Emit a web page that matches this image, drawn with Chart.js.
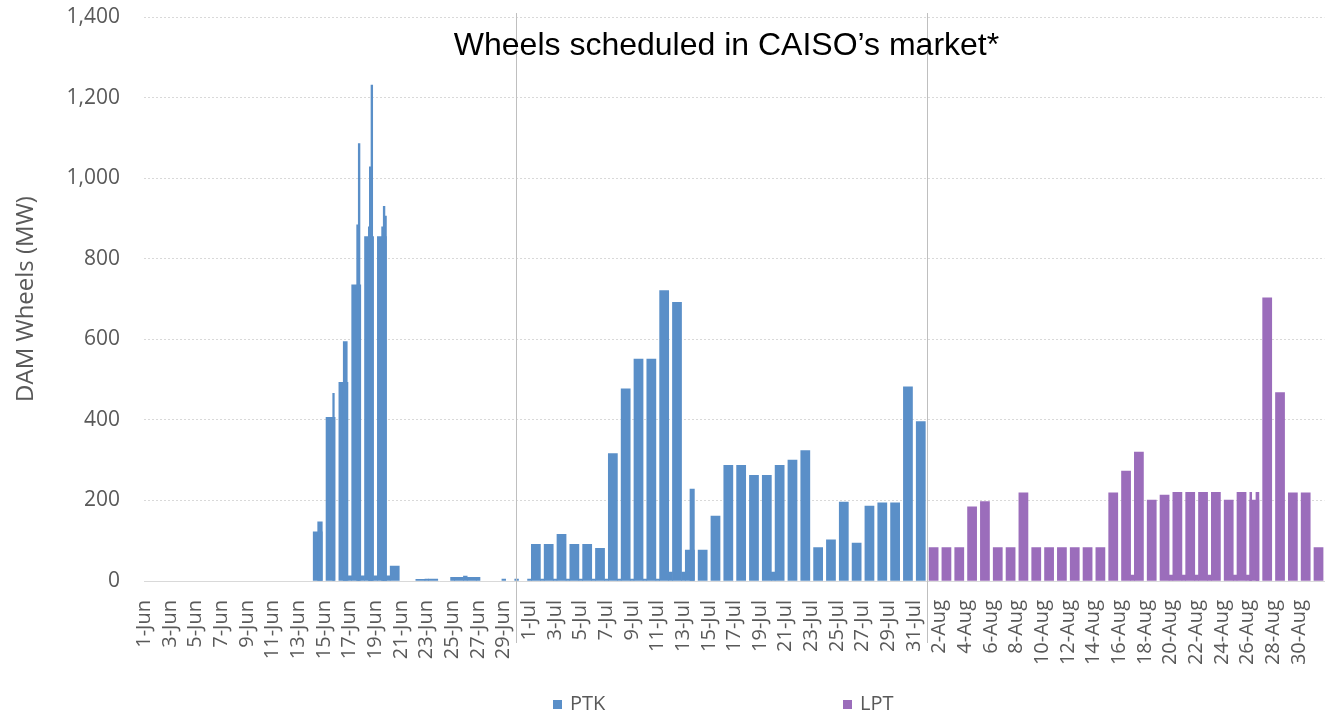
<!DOCTYPE html>
<html>
<head>
<meta charset="utf-8">
<script src="https://cdn.jsdelivr.net/npm/chart.js@4.4.1/dist/chart.umd.min.js"></script>
<style>
  html, body { margin: 0; padding: 0; background: #fff; }
  #wrap { position: relative; width: 1326px; height: 721px; overflow: hidden; }
  #c { position: absolute; left: 0; top: 0; }
  #title { position: absolute; left: 0; width: 1453px; top: 26px; line-height: 36px; text-align: center;
           font-family: "Liberation Sans", Arial, sans-serif; font-size: 32px; color: #000; white-space: nowrap; }
  .lg { position: absolute; top: 689px; height: 28px; line-height: 28px; font-family: "Open Sans", sans-serif;
        font-size: 20px; color: #595959; white-space: nowrap; }
  .lg i { display: inline-block; width: 9px; height: 9px; margin-right: 8px; vertical-align: 1px; }
</style>
</head>
<body>
<div id="wrap">
  <canvas id="c" width="1326" height="721"></canvas>
  <div id="title">Wheels scheduled in CAISO’s market*</div>
  <div class="lg" id="lgPTK" style="left:553px"></div>
  <div class="lg" id="lgLPT" style="left:843px"></div>
</div>
<script>
// ---------------- data ----------------
const monthNames = ['Jun', 'Jul', 'Aug'];
const monthLengths = [30, 31, 31];
const seriesNames = ['PTK', 'LPT'];
const seriesColors = ['#5A8FC8', '#9B6DBB'];

// on-peak daily block values (MW)
const ptkJun = [0,0,0,0,0,0,0,0,0,0,0,0,0,122,406,493,735,855,855,37,0,4,5,0,9,9,0,0,0,0];
const ptkJul = [91,91,116,91,91,81,316,477,551,551,721,692,77,77,161,287,287,262,262,287,300,324,83,102,196,94,186,194,194,482,396];
const lptAug = [83,83,83,184,197,83,83,219,83,83,83,83,83,83,219,273,320,201,213,220,220,220,220,201,220,201,703,468,219,219,83];

// small off-peak values in the gap after a day's block
const ptkOffPeak = [['16-Jun',13],['17-Jun',13],['18-Jun',13],['19-Jun',13],['22-Jun',5],['24-Jun',9],['25-Jun',12],['26-Jun',9],
  ['28-Jun',5],['29-Jun',5],['30-Jun',5],['1-Jul',5],['2-Jul',5],['3-Jul',5],['4-Jul',5],['5-Jul',5],['6-Jul',5],['7-Jul',5],
  ['8-Jul',5],['9-Jul',5],['10-Jul',5],['11-Jul',22],['12-Jul',22],['19-Jul',22]];
const lptOffPeak = [['16-Aug',15],['19-Aug',15],['20-Aug',15],['21-Aug',15],['22-Aug',15],['24-Aug',15],['25-Aug',15]];

// intraday segments: [day, start hour, end hour, MW]
const ptkIntraday = [
  ['14-Jun', 12.9, 21.5, 147],
  ['15-Jun', 17.0, 20.0, 466],
  ['16-Jun', 12.7, 20.2, 594],
  ['17-Jun', 13.8, 18.1, 884],
  ['17-Jun', 16.8, 20.0, 1086],
  ['18-Jun', 11.6, 14.8, 879],
  ['18-Jun', 13.5, 18.5, 1028],
  ['18-Jun', 16.6, 19.8, 1231],
  ['19-Jun', 12.5, 16.3, 879],
  ['19-Jun', 15.5, 18.7, 930],
  ['19-Jun', 18.7, 21.5, 906],
  ['13-Jul', 13.3, 21.5, 228]
];
const lptIntraday = [
  ['26-Aug', 4.5, 8.0, 220],
  ['26-Aug', 16.0, 21.5, 220]
];

const onPeakHours = [4.5, 21.5];
const monthDividers = ['30-Jun', '1-Aug'];
const yTicks = [0, 200, 400, 600, 800, 1000, 1200, 1400];

// ---------------- build ----------------
const dayLabels = monthNames.flatMap((m, i) => Array.from({length: monthLengths[i]}, (_, k) => (k + 1) + '-' + m));
const nDays = dayLabels.length;
const dayIdx = l => dayLabels.indexOf(l);
const ptkDaily = ptkJun.concat(ptkJul);
const lptStart = ptkDaily.length;

function spanPx(chart, spanDays) {
  const s = chart.scales && chart.scales.x;
  if (!s || !(s.width > 0)) return 1;
  return Math.abs(s.getPixelForValue(spanDays) - s.getPixelForValue(0));
}
function blockPoint(d, h0, h1, v) { return { x: d + (h0 + h1) / 48, y: v }; }

const datasets = [];
function addSet(name, color, points, hours) {
  datasets.push({
    label: name, data: points, backgroundColor: color, borderWidth: 0,
    grouped: false, span: hours / 24,
    barThickness: ctx => spanPx(ctx.chart, ctx.dataset.span)
  });
}
function buildSeries(si, daily, offset, offPeak, intraday) {
  const name = seriesNames[si], color = seriesColors[si];
  const on = [];
  daily.forEach((v, i) => { if (v > 0) on.push(blockPoint(i + offset, onPeakHours[0], onPeakHours[1], v)); });
  intraday.forEach(([l, h0, h1, v]) => addSet(name, color, [blockPoint(dayIdx(l), h0, h1, v)], h1 - h0));
  addSet(name, color, on, onPeakHours[1] - onPeakHours[0]);
  addSet(name, color, offPeak.map(([l, v]) => blockPoint(dayIdx(l), onPeakHours[1], 24 + onPeakHours[0], v)),
         24 - (onPeakHours[1] - onPeakHours[0]));
}
buildSeries(0, ptkDaily, 0, ptkOffPeak, ptkIntraday);
buildSeries(1, lptAug, lptStart, lptOffPeak, lptIntraday);

const dividerPlugin = {
  id: 'dividers',
  afterDatasetsDraw(chart) {
    const {ctx, chartArea} = chart, x = chart.scales.x;
    ctx.save();
    ctx.strokeStyle = '#bfbfbf';
    ctx.lineWidth = 1;
    monthDividers.forEach(l => {
      const px = Math.round(x.getPixelForValue(dayIdx(l))) + 0.5;
      ctx.beginPath();
      ctx.moveTo(px, chartArea.top - 4);
      ctx.lineTo(px, chartArea.bottom + 62);
      ctx.stroke();
    });
    ctx.restore();
  }
};

const fontFam = '"Open Sans", sans-serif';
new Chart(document.getElementById('c'), {
  type: 'bar',
  data: { datasets },
  options: {
    responsive: false,
    animation: false,
    layout: { padding: { top: 17, right: 1.6, bottom: 0, left: 0 } },
    plugins: { legend: { display: false }, tooltip: { enabled: false } },
    scales: {
      x: {
        type: 'linear', min: 0, max: nDays, offset: false,
        grid: { display: false, drawTicks: false },
        border: { display: true, color: '#d9d9d9', width: 1 },
        afterBuildTicks: s => { s.ticks = dayLabels.map((_, i) => i).filter(i => i % 2 === 0).map(i => ({ value: i + 0.5 / 24 })); },
        afterFit: s => { s.height = 140; s.paddingLeft = 0; s.paddingRight = 0; },
        ticks: {
          autoSkip: false, minRotation: 90, maxRotation: 90, padding: 19,
          color: '#595959', font: { family: fontFam, size: 20 },
          callback: v => dayLabels[Math.floor(v)]
        }
      },
      y: {
        min: 0, max: 1400,
        afterBuildTicks: s => { s.ticks = yTicks.map(v => ({ value: v })); },
        afterFit: s => { s.width = 144; s.paddingTop = 0; s.paddingBottom = 0; },
        grid: { color: '#d9d9d9', drawTicks: false, lineWidth: 1 },
        border: { display: false, dash: [2, 2] },
        ticks: { padding: 24, color: '#595959', font: { family: fontFam, size: 21 },
                 callback: v => v.toLocaleString('en-US') },
        title: { display: true, text: 'DAM Wheels (MW)', color: '#595959',
                 font: { family: fontFam, size: 24, weight: 'normal' }, padding: { top: 12, bottom: 0 } }
      }
    }
  },
  plugins: [dividerPlugin]
});

// legend (HTML)
['lgPTK', 'lgLPT'].forEach((id, i) => {
  const el = document.getElementById(id);
  const sw = document.createElement('i');
  sw.style.background = seriesColors[i];
  el.appendChild(sw);
  el.appendChild(document.createTextNode(seriesNames[i]));
});
</script>
</body>
</html>
